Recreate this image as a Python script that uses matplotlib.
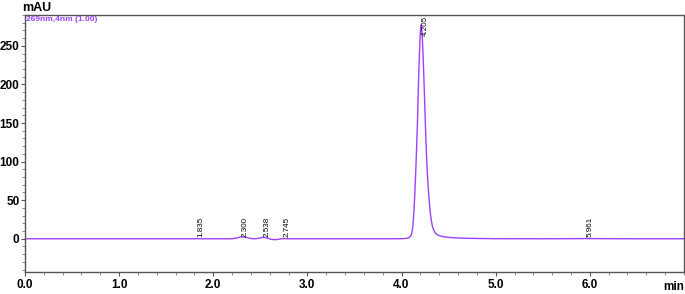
import matplotlib.pyplot as plt
from matplotlib.ticker import MultipleLocator

# Chromatogram trace (time in min, signal in mAU)
time_min = [0.0, 1.0, 1.80, 1.835, 1.87, 2.0, 2.20, 2.25, 2.30, 2.35, 2.40, 2.45,
            2.50, 2.538, 2.58, 2.62, 2.66, 2.70, 2.745, 2.80, 3.0, 3.5, 3.9,
            4.00, 4.05, 4.08, 4.10, 4.11, 4.12, 4.13, 4.14, 4.15, 4.16, 4.17,
            4.18, 4.19, 4.20, 4.205, 4.21, 4.22, 4.23, 4.24, 4.25, 4.26, 4.27,
            4.28, 4.29, 4.30, 4.31, 4.32, 4.33, 4.35, 4.37, 4.40, 4.45, 4.50,
            4.60, 4.70, 4.85, 5.0, 5.5, 5.961, 6.5, 7.0]
signal_mau = [0.0, 0.0, 0.0, 0.2, 0.0, 0.0, 0.0, 1.0, 2.8, 1.8, 0.3, 0.0,
              1.2, 2.0, 0.5, -0.8, -1.2, -0.5, 0.3, 0.0, 0.0, 0.0, 0.0,
              0.1, 0.5, 1.5, 4.0, 8.0, 16.0, 33.0, 56.0, 85.0, 118.0, 155.0,
              203.0, 240.0, 268.0, 277.0, 276.0, 262.0, 234.0, 198.0, 160.0, 124.0, 94.0,
              72.0, 55.0, 40.0, 29.0, 21.0, 15.0, 9.0, 6.0, 4.0, 2.5, 1.8,
              1.0, 0.6, 0.3, 0.1, 0.0, 0.2, 0.0, 0.0]

# Peak table
peak_times = [1.835, 2.300, 2.538, 2.745, 4.205, 5.961]
peak_labels = ['1.835', '2.300', '2.538', '2.745', '4.205', '5.961']

x_ticks = [0.0, 1.0, 2.0, 3.0, 4.0, 5.0, 6.0]
x_tick_labels = ['0.0', '1.0', '2.0', '3.0', '4.0', '5.0', '6.0']
y_ticks = [0, 50, 100, 150, 200, 250]

fnt = ['Liberation Sans', 'DejaVu Sans']
line_color = '#a040ff'

fig = plt.figure(figsize=(6.85, 2.94), dpi=100)
ax = fig.add_axes([0.0365, 0.075, 0.962, 0.874])

ax.plot(time_min, signal_mau, color=line_color, lw=1.0)

# peak retention time labels
for t, lab in zip(peak_times, peak_labels):
    if lab == '4.205':
        ax.text(t + 0.01, 289, lab, rotation=90, ha='left', va='top', fontsize=5.8,
                family=fnt)
    else:
        ax.text(t, 2.5, lab, rotation=90, ha='left', va='bottom', fontsize=5.8,
                family=fnt)

ax.set_xlim(0, 7.0)
ax.set_ylim(-43, 290)
ax.set_xticks(x_ticks)
ax.set_xticklabels(x_tick_labels)
ax.set_yticks(y_ticks)
ax.xaxis.set_minor_locator(MultipleLocator(0.2))
ax.yaxis.set_minor_locator(MultipleLocator(10))

ax.tick_params(which='major', direction='out', length=3, width=0.8, color='#555555', pad=1)
ax.tick_params(which='minor', direction='out', length=2, width=0.6, color='#777777')
ax.tick_params(axis='x', which='major', pad=2)
for lbl in ax.get_xticklabels() + ax.get_yticklabels():
    lbl.set_family(fnt)
    lbl.set_fontweight('bold')
    lbl.set_fontsize(8.5)

for s in ax.spines.values():
    s.set_color('#555555')
    s.set_linewidth(1.0)

# axis unit labels
fig.text(0.032, 0.953, 'mAU', ha='left', va='bottom', fontsize=9, fontweight='bold', family=fnt)
ax.text(7.0, -0.035, 'min', transform=ax.get_xaxis_transform(), ha='right', va='top',
        fontsize=8.5, fontweight='bold', family=fnt)

ax.text(0.002, 0.995, '269nm,4nm (1.00)', transform=ax.transAxes, ha='left', va='top',
        fontsize=6, fontweight='bold', color=line_color, family=fnt)

fig.savefig('out.png', dpi=100)
